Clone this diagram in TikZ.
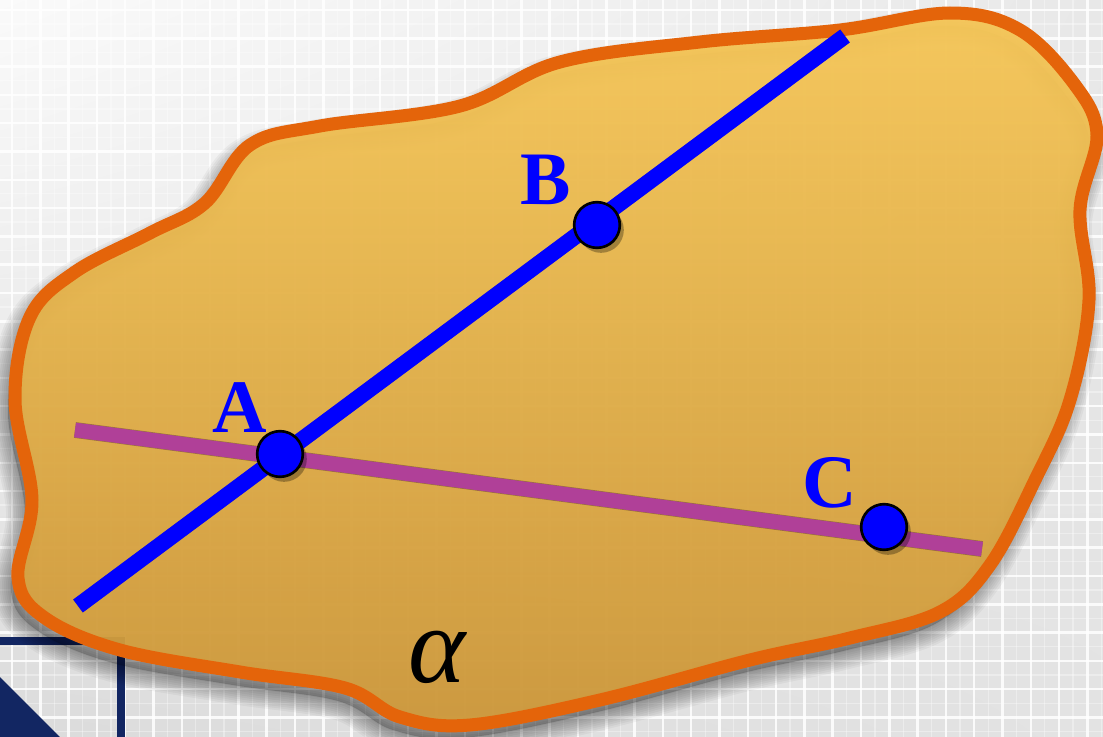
\documentclass[tikz,border=0pt]{standalone}
\usepackage{fontspec}
\setmainfont{Liberation Serif}
\usepackage{xcolor}
\usetikzlibrary{positioning,shadings}

\definecolor{planeedge}{RGB}{228,100,10}
\definecolor{planetop}{RGB}{248,200,88}
\definecolor{planebot}{RGB}{206,152,58}
\definecolor{lineAC}{RGB}{176,64,152}
\definecolor{ptblue}{RGB}{0,0,255}
\definecolor{navy}{RGB}{18,38,98}

% outline of the plane alpha (pixel coordinates)
\def\blobpath{plot[smooth cycle,tension=0.6] coordinates{(150,233) (205,203) (250,145) (320,126) (460,106) (560,62) (700,42) (840,30) (950,13) (1020,30) (1075,85) (1097,135) (1080,210) (1089,300) (1070,400) (1035,480) (990,565) (940,612) (850,638) (750,660) (600,700) (470,725) (400,717) (345,688) (240,672) (120,650) (45,618) (18,578) (32,500) (15,400) (30,317) (75,272)}}

\begin{document}
\begin{tikzpicture}[x=0.02cm,y=-0.02cm,
  gridln/.style={white,line width=1.4pt,opacity=0.85},
  gridfine/.style={white,line width=0.7pt,opacity=0.35},
  dot/.style={circle,fill=ptblue,draw=black,line width=1.5pt,minimum size=26pt,inner sep=0pt},
  lbl/.style={text=ptblue,font=\fontsize{43}{43}\selectfont\bfseries,inner sep=0pt},
  lineshadow/.style={black,opacity=0.3,line width=9pt,shift={(3,4)}}]
\useasboundingbox (0,0) rectangle (1103,737);
\clip (0,0) rectangle (1103,737);

% background
\shade[upper left=white!98!black,upper right=white!91!black,
  lower left=white!86!black,lower right=white!89!black] (0,0) rectangle (1103,737);
\foreach \i in {0,...,39}{
  \draw[gridfine] ({26+28.3*\i},0) -- ({26+28.3*\i},737);
  \draw[gridln] ({12+28.3*\i},0) -- ({12+28.3*\i},737);}
\foreach \j in {0,...,26}{
  \draw[gridfine] (0,{24+28.3*\j}) -- (1103,{24+28.3*\j});
  \draw[gridln] (0,{10+28.3*\j}) -- (1103,{10+28.3*\j});}

% corner decoration
\draw[navy,line width=4.6pt] (0,641) -- (121,641) -- (121,737);
\fill[navy] (0,677) -- (60,737) -- (0,737) -- cycle;

% shadow of the plane
\foreach \w in {2,6,...,38}
  \draw[black,opacity=0.04,line width=\w*0.5669pt,shift={(-7,13)}] \blobpath;
\fill[black,opacity=0.2,shift={(-7,13)}] \blobpath;

% the plane
\path[top color=planetop,bottom color=planebot,fill opacity=0.95] \blobpath;
\draw[planeedge,line width=7.4pt] \blobpath;

% lines
\coordinate (b1) at (78,606);
\coordinate (b2) at (845,36);
\coordinate (p1) at (75,430);
\coordinate (p2) at (982,549);
\draw[lineshadow] (p1) -- (p2);
\draw[lineshadow] (b1) -- (b2);
\draw[lineAC,line width=8.4pt] (p1) -- (p2);
\draw[ptblue,line width=9.2pt] (b1) -- (b2);

% points
\fill[black,opacity=0.3] (284,459) circle (13pt) (601,230) circle (13pt) (888,532) circle (13pt);
\node[dot] (A) at (280,454) {};
\node[dot] (B) at (597,225) {};
\node[dot] (C) at (884,527) {};
\node[lbl] (labA) at (240,408) {A};
\node[lbl] (labB) at (546,180) {B};
\node[lbl] (labC) at (830,483) {C};
\node (alpha) at (437,657) {\fontsize{62}{62}\selectfont\itshape α};
\end{tikzpicture}
\end{document}
